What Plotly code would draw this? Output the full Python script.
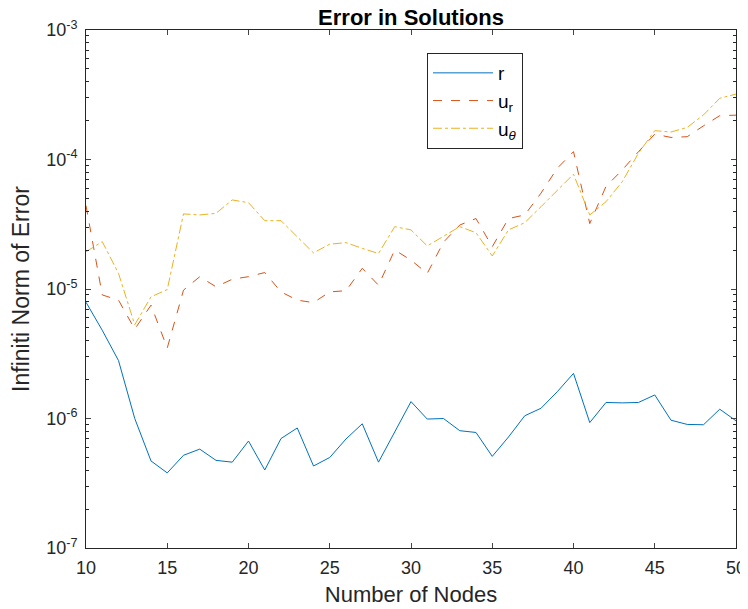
import plotly.graph_objects as go

nodes = list(range(10, 51))

err_r = [7.9e-6, 4.8e-6, 2.8e-6, 1.0e-6, 4.7e-7, 3.8e-7, 5.2e-7, 5.8e-7, 4.75e-7, 4.6e-7,
         6.7e-7, 4.0e-7, 7.0e-7, 8.45e-7, 4.3e-7, 5.0e-7, 6.95e-7, 9.1e-7, 4.6e-7, 7.9e-7,
         1.35e-6, 9.9e-7, 1.0e-6, 8.05e-7, 7.8e-7, 5.1e-7, 7.2e-7, 1.05e-6, 1.2e-6, 1.61e-6,
         2.23e-6, 9.3e-7, 1.33e-6, 1.32e-6, 1.33e-6, 1.52e-6, 9.7e-7, 9.0e-7, 8.95e-7, 1.18e-6,
         9.6e-7]

err_ur = [4.4e-5, 9.0e-6, 8.2e-6, 4.9e-6, 7.5e-6, 3.5e-6, 9.8e-6, 1.245e-5, 1.04e-5, 1.19e-5,
          1.245e-5, 1.34e-5, 9.5e-6, 8.2e-6, 7.85e-6, 9.5e-6, 9.7e-6, 1.445e-5, 1.07e-5, 2.0e-5,
          1.67e-5, 1.32e-5, 2.3e-5, 3.12e-5, 3.5e-5, 2.12e-5, 3.5e-5, 3.73e-5, 5.5e-5, 8.55e-5,
          1.15e-4, 3.2e-5, 6.2e-5, 8.3e-5, 1.15e-4, 1.57e-4, 1.48e-4, 1.5e-4, 1.82e-4, 2.18e-4,
          2.2e-4]

err_ut = [1.94e-5, 2.32e-5, 1.32e-5, 5.3e-6, 8.7e-6, 9.9e-6, 3.8e-5, 3.73e-5, 3.84e-5, 4.87e-5,
          4.64e-5, 3.37e-5, 3.37e-5, 2.54e-5, 1.9e-5, 2.22e-5, 2.28e-5, 2.06e-5, 1.88e-5, 3.03e-5,
          2.86e-5, 2.15e-5, 2.54e-5, 3.03e-5, 2.72e-5, 1.8e-5, 2.86e-5, 3.25e-5, 4.32e-5, 5.8e-5,
          7.7e-5, 3.73e-5, 4.72e-5, 6.74e-5, 1.12e-4, 1.67e-4, 1.63e-4, 1.77e-4, 2.21e-4, 2.97e-4,
          3.2e-4]

y_tickvals = [1e-7, 1e-6, 1e-5, 1e-4, 1e-3]
y_ticktext = ["10<sup>-7</sup>", "10<sup>-6</sup>", "10<sup>-5</sup>", "10<sup>-4</sup>", "10<sup>-3</sup>"]
x_tickvals = [10, 15, 20, 25, 30, 35, 40, 45, 50]

fig = go.Figure()
fig.add_trace(go.Scatter(x=nodes, y=err_r, mode="lines", name="r",
                         line=dict(color="#0072BD", width=1)))
fig.add_trace(go.Scatter(x=nodes, y=err_ur, mode="lines", name="u<sub>r</sub>",
                         line=dict(color="#D95319", width=1, dash="dash")))
fig.add_trace(go.Scatter(x=nodes, y=err_ut, mode="lines", name="u<sub><i>θ</i></sub>",
                         line=dict(color="#EDB120", width=1, dash="dashdot")))

axcol = "#262626"
# page body has an 8px margin, so the figure is offset by 8px
W, H = 740, 601
ML, MT = 78, 22
fig.update_layout(
    width=W, height=H,
    margin=dict(l=ML, r=12, t=MT, b=61),
    paper_bgcolor="white", plot_bgcolor="white",
    font=dict(family="Liberation Sans, Arial, sans-serif", color=axcol, size=18),
    title=dict(text="<b>Error in Solutions</b>", x=(ML + 325) / W, xanchor="center",
               y=1 - 9 / H, yanchor="middle", font=dict(size=22, color="black")),
    showlegend=True,
    legend=dict(x=(427 - 86) / 650, y=(548 - 53) / 518, xanchor="left", yanchor="top",
                bordercolor="#262626", borderwidth=1, bgcolor="white",
                font=dict(size=19, color="black"), itemwidth=60),
)
fig.update_xaxes(range=[10, 50], tickvals=x_tickvals, ticks="inside", ticklen=5,
                 ticklabelstandoff=3,
                 showline=True, linecolor=axcol, linewidth=1, mirror="ticks",
                 showgrid=False, zeroline=False, tickfont=dict(size=18), automargin=False,
                 title=dict(text="Number of Nodes", font=dict(size=22), standoff=10))
fig.update_yaxes(type="log", range=[-7, -3], tickvals=y_tickvals, ticktext=y_ticktext,
                 ticks="inside", ticklen=5, ticklabelstandoff=4,
                 showline=True, linecolor=axcol, linewidth=1, mirror="ticks",
                 showgrid=False, zeroline=False, tickfont=dict(size=18), automargin=False,
                 minor=dict(ticks="inside", ticklen=3, dtick="D1", showgrid=False, tickcolor=axcol),
                 title=dict(text="Infiniti Norm of Error", font=dict(size=23), standoff=12))

fig.write_html("out.html")
